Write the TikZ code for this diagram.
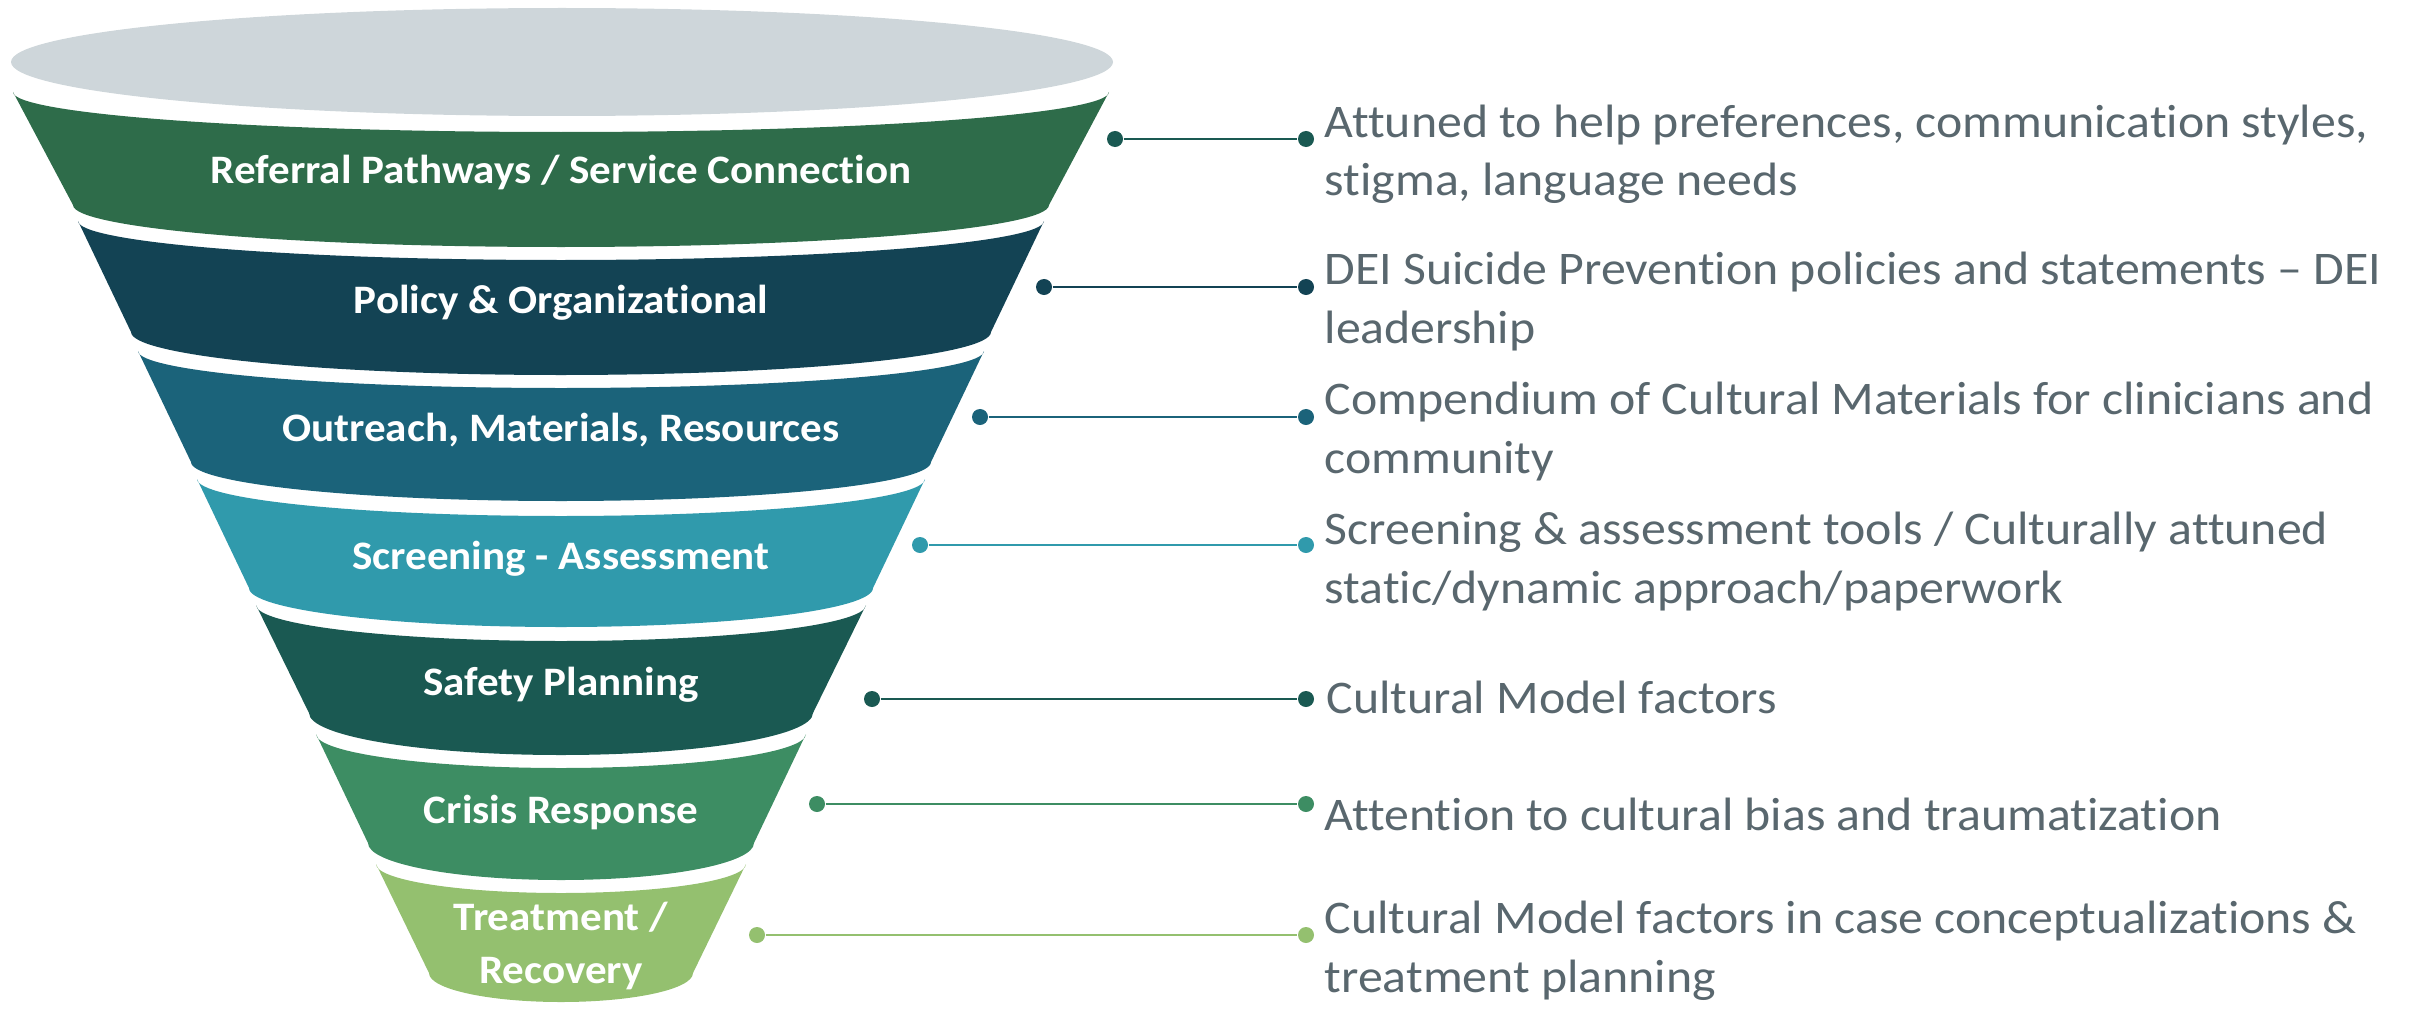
\documentclass[tikz,border=0pt]{standalone}
\usepackage{fontspec}
\setmainfont{Carlito}[Ligatures=NoCommon, FakeStretch=1.065]

\definecolor{rimgray}{HTML}{CED6DA}
\definecolor{bandone}{HTML}{2E6C4A}
\definecolor{bandtwo}{HTML}{134354}
\definecolor{bandthree}{HTML}{1B637A}
\definecolor{bandfour}{HTML}{309AAC}
\definecolor{bandfive}{HTML}{1A5952}
\definecolor{bandsix}{HTML}{3D8D63}
\definecolor{bandseven}{HTML}{94C06F}
\definecolor{textgray}{HTML}{59676E}

\begin{document}
\begin{tikzpicture}[x=0.01cm, y=0.01cm,
    bandlabel/.style={font=\fontsize{11.5}{14.8}\selectfont\bfseries, text=white, align=center, inner sep=0},
    desc/.style={font=\fontsize{13.3}{16.5}\selectfont, text=textgray, align=left, anchor=base west, inner sep=0},
    enddot/.style={circle, fill=#1, inner sep=0, minimum size=0.16cm},
    link/.style={draw=#1, line width=0.8pt}]

    \useasboundingbox (0,0) rectangle (2412,1008);

    % Rim of the funnel
    \fill[rimgray] (562,946) ellipse [x radius=551, y radius=54];

    % Bands, top to bottom
    \fill[bandone] (13,916) -- (73,803) arc[start angle=180, end angle=360, x radius=488, y radius=42]
        -- (1109,916) arc[start angle=0, end angle=-180, x radius=548, y radius=40] -- cycle;
    \fill[bandtwo] (78,787) -- (131,676) arc[start angle=180, end angle=360, x radius=430, y radius=43]
        -- (1044,787) arc[start angle=0, end angle=-180, x radius=483, y radius=39] -- cycle;
    \fill[bandthree] (138,657) -- (191,546) arc[start angle=180, end angle=360, x radius=370, y radius=39]
        -- (984,657) arc[start angle=0, end angle=-180, x radius=423, y radius=37] -- cycle;
    \fill[bandfour] (197,529) -- (249,420) arc[start angle=180, end angle=360, x radius=312, y radius=39]
        -- (925,529) arc[start angle=0, end angle=-180, x radius=364, y radius=37] -- cycle;
    \fill[bandfive] (256,403) -- (309,295) arc[start angle=180, end angle=360, x radius=252, y radius=42]
        -- (866,403) arc[start angle=0, end angle=-180, x radius=305, y radius=36] -- cycle;
    \fill[bandsix] (316,274) -- (368,165) arc[start angle=180, end angle=360, x radius=193, y radius=37]
        -- (806,274) arc[start angle=0, end angle=-180, x radius=245, y radius=34] -- cycle;
    \fill[bandseven] (376,144) -- (429,35) arc[start angle=180, end angle=360, x radius=132, y radius=29]
        -- (746,144) arc[start angle=0, end angle=-180, x radius=185, y radius=29] -- cycle;

    % Band labels (base = last line)
    \node[bandlabel, anchor=base] (referral) at (561,825) {Referral Pathways / Service Connection};
    \node[bandlabel, anchor=base] (policy) at (561,695) {Policy \& Organizational};
    \node[bandlabel, anchor=base] (outreach) at (561,567) {Outreach, Materials, Resources};
    \node[bandlabel, anchor=base] (screening) at (561,439) {Screening - Assessment};
    \node[bandlabel, anchor=base] (safety) at (561,313) {Safety Planning};
    \node[bandlabel, anchor=base] (crisis) at (561,185) {Crisis Response};
    \node[bandlabel, anchor=base] (treatment) at (561,25) {Treatment /\\ Recovery};

    % Connectors
    \node[enddot=bandfive] (referral-a) at (1115,869) {};
    \node[enddot=bandfive] (referral-b) at (1306,869) {};
    \draw[link=bandfive] (referral-a) -- (referral-b);

    \node[enddot=bandtwo] (policy-a) at (1044,721) {};
    \node[enddot=bandtwo] (policy-b) at (1306,721) {};
    \draw[link=bandtwo] (policy-a) -- (policy-b);

    \node[enddot=bandthree] (outreach-a) at (980,591) {};
    \node[enddot=bandthree] (outreach-b) at (1306,591) {};
    \draw[link=bandthree] (outreach-a) -- (outreach-b);

    \node[enddot=bandfour] (screening-a) at (920,463) {};
    \node[enddot=bandfour] (screening-b) at (1306,463) {};
    \draw[link=bandfour] (screening-a) -- (screening-b);

    \node[enddot=bandfive] (safety-a) at (872,309) {};
    \node[enddot=bandfive] (safety-b) at (1306,309) {};
    \draw[link=bandfive] (safety-a) -- (safety-b);

    \node[enddot=bandsix] (crisis-a) at (817,204) {};
    \node[enddot=bandsix] (crisis-b) at (1306,204) {};
    \draw[link=bandsix] (crisis-a) -- (crisis-b);

    \node[enddot=bandseven] (treatment-a) at (757,73) {};
    \node[enddot=bandseven] (treatment-b) at (1306,73) {};
    \draw[link=bandseven] (treatment-a) -- (treatment-b);

    % Descriptions (base = last line)
    \node[desc] (attuned) at (1324,812) {Attuned to help preferences, communication styles,\\stigma, language needs};
    \node[desc] (dei) at (1324,665) {DEI Suicide Prevention policies and statements – DEI\\leadership};
    \node[desc] (compendium) at (1324,535) {Compendium of Cultural Materials for clinicians and\\community};
    \node[desc] (tools) at (1324,405) {Screening \& assessment tools / Culturally attuned\\static/dynamic approach/paperwork};
    \node[desc] (model) at (1326,295) {Cultural Model factors};
    \node[desc] (bias) at (1324,178) {Attention to cultural bias and traumatization};
    \node[desc] (planning) at (1324,16) {Cultural Model factors in case conceptualizations \&\\treatment planning};

\end{tikzpicture}
\end{document}
